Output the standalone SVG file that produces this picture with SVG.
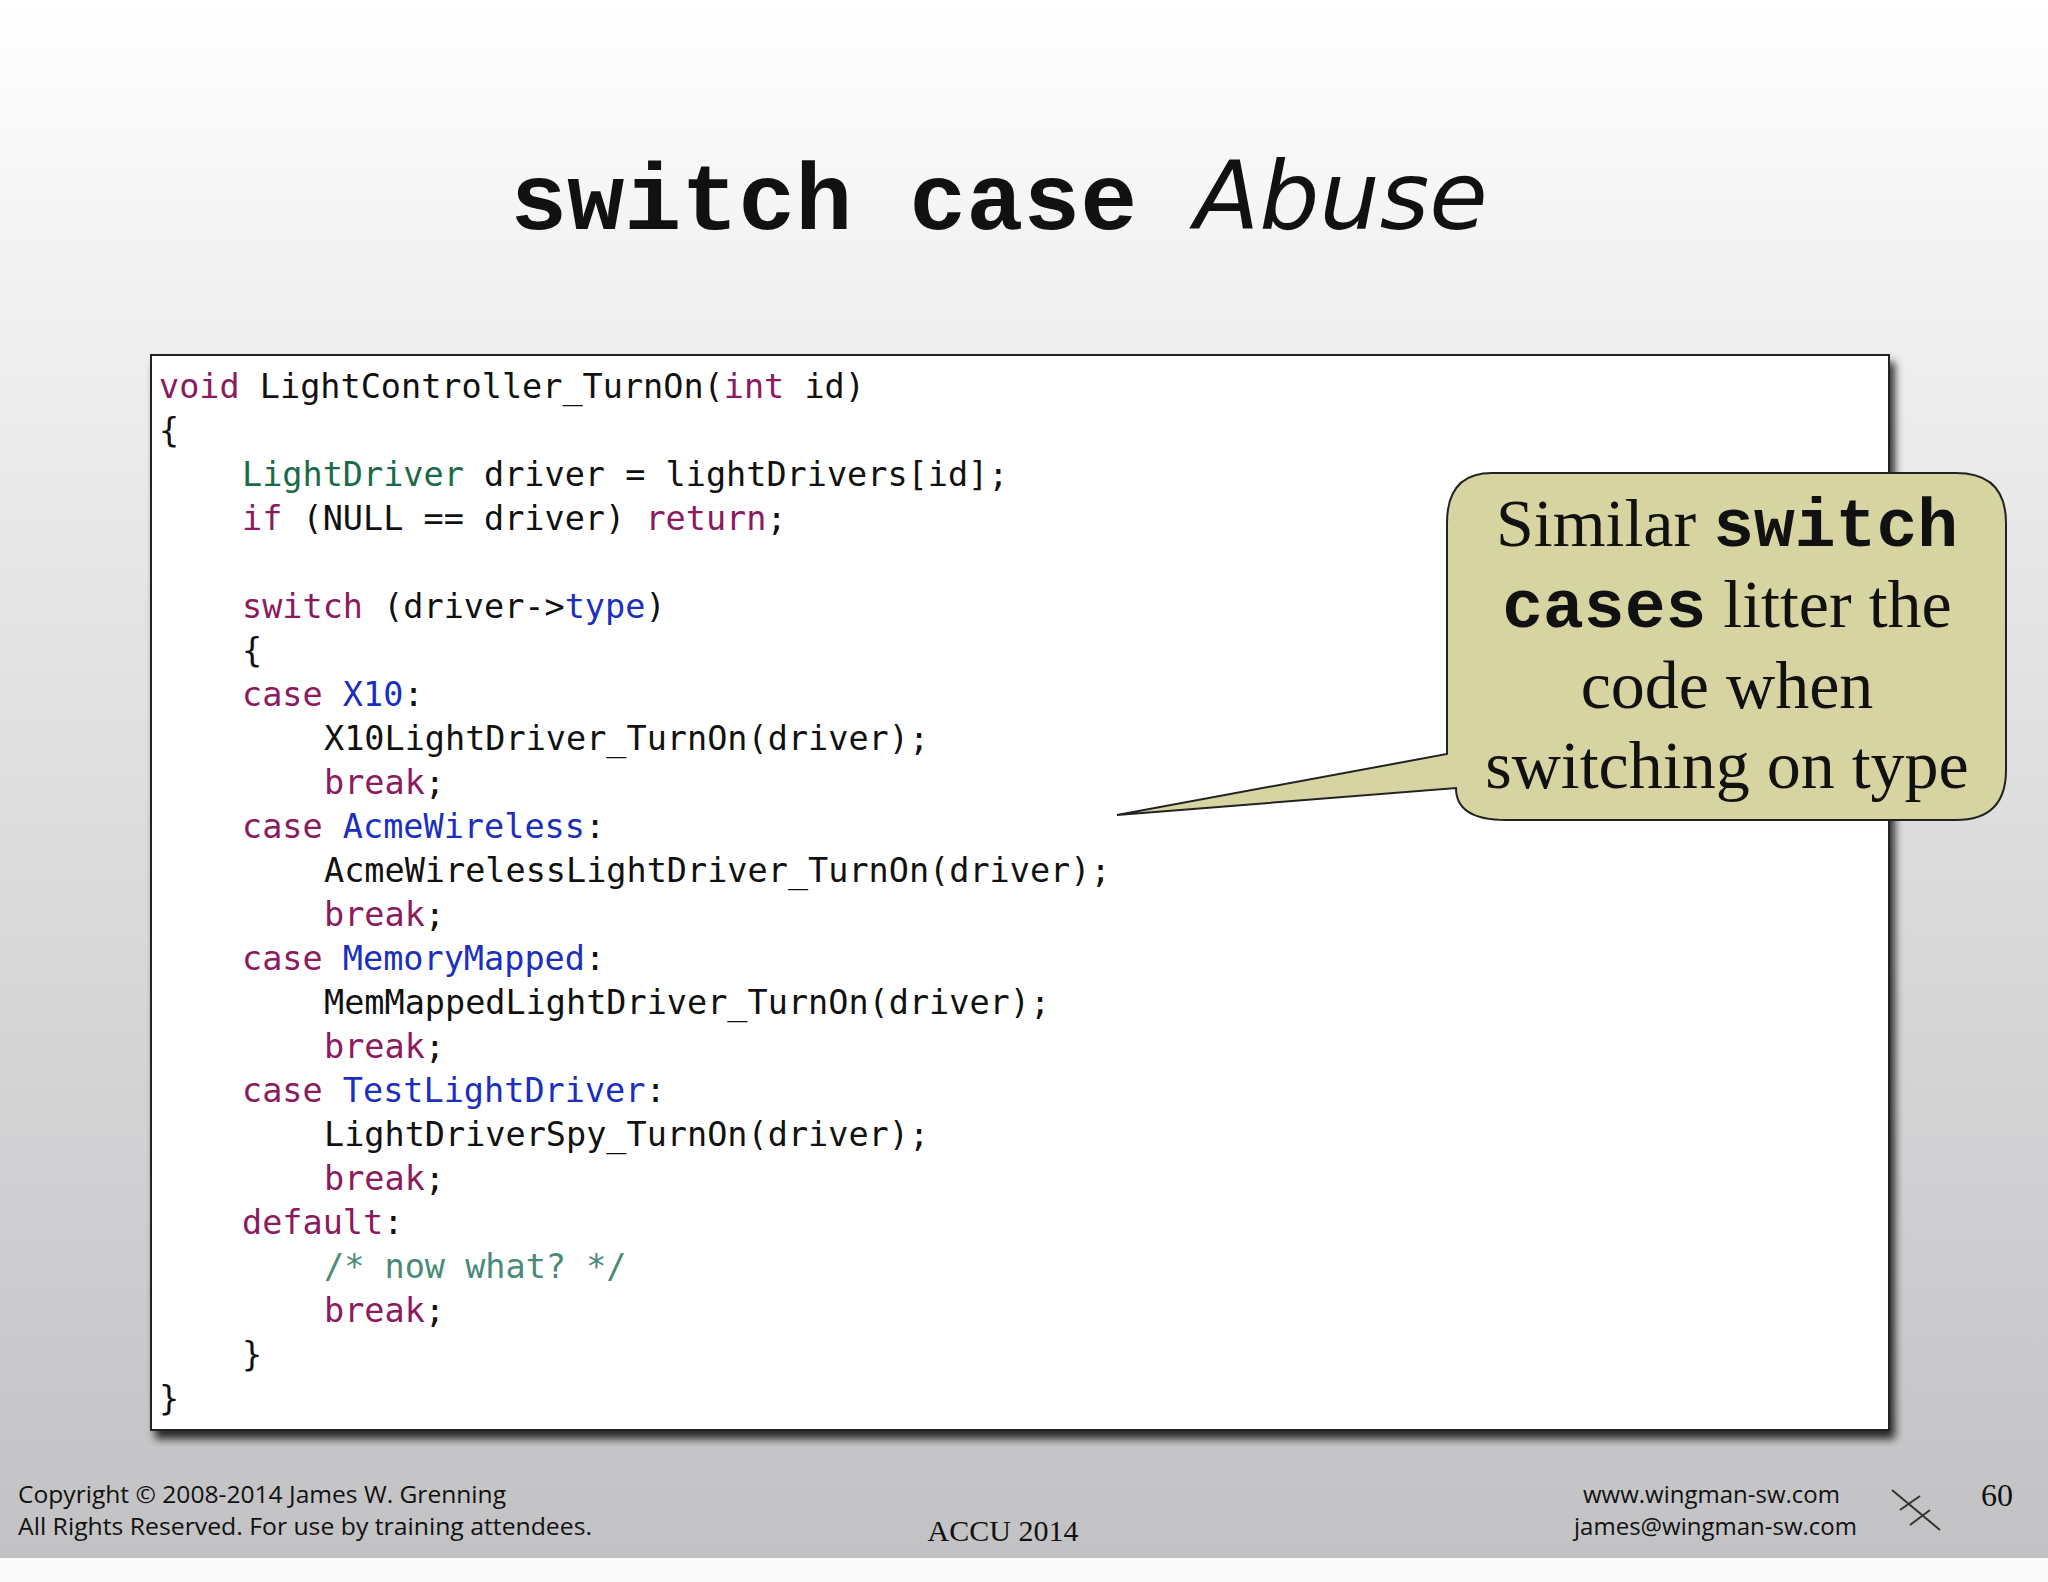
<svg xmlns="http://www.w3.org/2000/svg" width="2048" height="1582" viewBox="0 0 2048 1582">
<defs>
<linearGradient id="bg" x1="0" y1="0" x2="0" y2="1">
<stop offset="0" stop-color="#ffffff"/><stop offset="0.2" stop-color="#f0f0f0"/><stop offset="1" stop-color="#c2c1c4"/>
</linearGradient>
<filter id="sh" x="-5%" y="-5%" width="110%" height="115%"><feGaussianBlur in="SourceAlpha" stdDeviation="4"/><feOffset dx="5" dy="8"/><feComponentTransfer><feFuncA type="linear" slope="0.8"/></feComponentTransfer><feMerge><feMergeNode/><feMergeNode in="SourceGraphic"/></feMerge></filter>
<style>
.c{font-family:"DejaVu Sans Mono","Liberation Mono",monospace;font-size:33.5px;fill:#111}
.k{fill:#8b1a5e}.t{fill:#1a6a4a}.b{fill:#1a2ec0}.m{fill:#4a8a78}
.f{font-family:"Open Sans","Liberation Sans",sans-serif;font-size:24px;fill:#111}
.s{font-family:"Liberation Serif",serif;fill:#111}
.cl{font-family:"Liberation Serif",serif;font-size:68px;fill:#111;text-anchor:middle}
.mb{font-family:"Liberation Mono",monospace;font-weight:bold}
</style>
</defs>
<rect width="2048" height="1558" fill="url(#bg)"/>
<rect y="1558" width="2048" height="24" fill="#fafafa"/>
<text x="999" y="229" text-anchor="middle" font-size="95" fill="#111"><tspan font-family="Liberation Mono,monospace" font-weight="bold">switch case </tspan><tspan font-family="DejaVu Sans,sans-serif" font-style="italic">Abuse</tspan></text>
<g id="code">
<rect x="151" y="355" width="1738" height="1075" fill="#fff" stroke="#222" stroke-width="2" filter="url(#sh)"/>
<text class="c" x="159" y="398"><tspan class="k">void</tspan> LightController_TurnOn(<tspan class="k">int</tspan> id)</text>
<text class="c" x="159" y="442">{</text>
<text class="c" x="242" y="486"><tspan class="t">LightDriver</tspan> driver = lightDrivers[id];</text>
<text class="c" x="242" y="530"><tspan class="k">if</tspan> (NULL == driver) <tspan class="k">return</tspan>;</text>
<text class="c" x="242" y="618"><tspan class="k">switch</tspan> (driver-&gt;<tspan class="b">type</tspan>)</text>
<text class="c" x="242" y="662">{</text>
<text class="c" x="242" y="706"><tspan class="k">case</tspan> <tspan class="b">X10</tspan>:</text>
<text class="c" x="324" y="750">X10LightDriver_TurnOn(driver);</text>
<text class="c k" x="324" y="794">break<tspan fill="#111">;</tspan></text>
<text class="c" x="242" y="838"><tspan class="k">case</tspan> <tspan class="b">AcmeWireless</tspan>:</text>
<text class="c" x="324" y="882">AcmeWirelessLightDriver_TurnOn(driver);</text>
<text class="c k" x="324" y="926">break<tspan fill="#111">;</tspan></text>
<text class="c" x="242" y="970"><tspan class="k">case</tspan> <tspan class="b">MemoryMapped</tspan>:</text>
<text class="c" x="324" y="1014">MemMappedLightDriver_TurnOn(driver);</text>
<text class="c k" x="324" y="1058">break<tspan fill="#111">;</tspan></text>
<text class="c" x="242" y="1102"><tspan class="k">case</tspan> <tspan class="b">TestLightDriver</tspan>:</text>
<text class="c" x="324" y="1146">LightDriverSpy_TurnOn(driver);</text>
<text class="c k" x="324" y="1190">break<tspan fill="#111">;</tspan></text>
<text class="c" x="242" y="1234"><tspan class="k">default</tspan>:</text>
<text class="c m" x="324" y="1278">/* now what? */</text>
<text class="c k" x="324" y="1322">break<tspan fill="#111">;</tspan></text>
<text class="c" x="242" y="1366">}</text>
<text class="c" x="159" y="1410">}</text>
</g>
<g id="callout">
<path d="M1492,473 H1956 Q2006,473 2006,523 V770 Q2006,820 1956,820 H1506 Q1456,820 1456,788 L1117,815 L1447,754 V523 Q1447,473 1492,473 Z" fill="#d6d5a2" stroke="#222" stroke-width="2"/>
<text class="cl" x="1727" y="546">Similar <tspan class="mb">switch</tspan></text>
<text class="cl" x="1727" y="627"><tspan class="mb">cases</tspan> litter the</text>
<text class="cl" x="1727" y="708">code when</text>
<text class="cl" x="1727" y="788">switching on type</text>
</g>
<g id="footer">
<text class="f" x="18" y="1503" textLength="488" lengthAdjust="spacingAndGlyphs">Copyright © 2008-2014 James W. Grenning</text>
<text class="f" x="18" y="1535" textLength="574" lengthAdjust="spacingAndGlyphs">All Rights Reserved.  For use by training attendees.</text>
<text class="s" x="1003" y="1541" font-size="30" text-anchor="middle">ACCU 2014</text>
<text class="f" x="1840" y="1503" text-anchor="end">www.wingman-sw.com</text>
<text class="f" x="1857" y="1535" text-anchor="end">james@wingman-sw.com</text>
<text class="s" x="1997" y="1506" font-size="32" text-anchor="middle">60</text>
<g stroke="#333" stroke-width="2" fill="none"><path d="M1892,1490 L1940,1530"/><path d="M1900,1510 L1920,1496"/><path d="M1910,1525 L1930,1510"/></g>
</g>
</svg>
